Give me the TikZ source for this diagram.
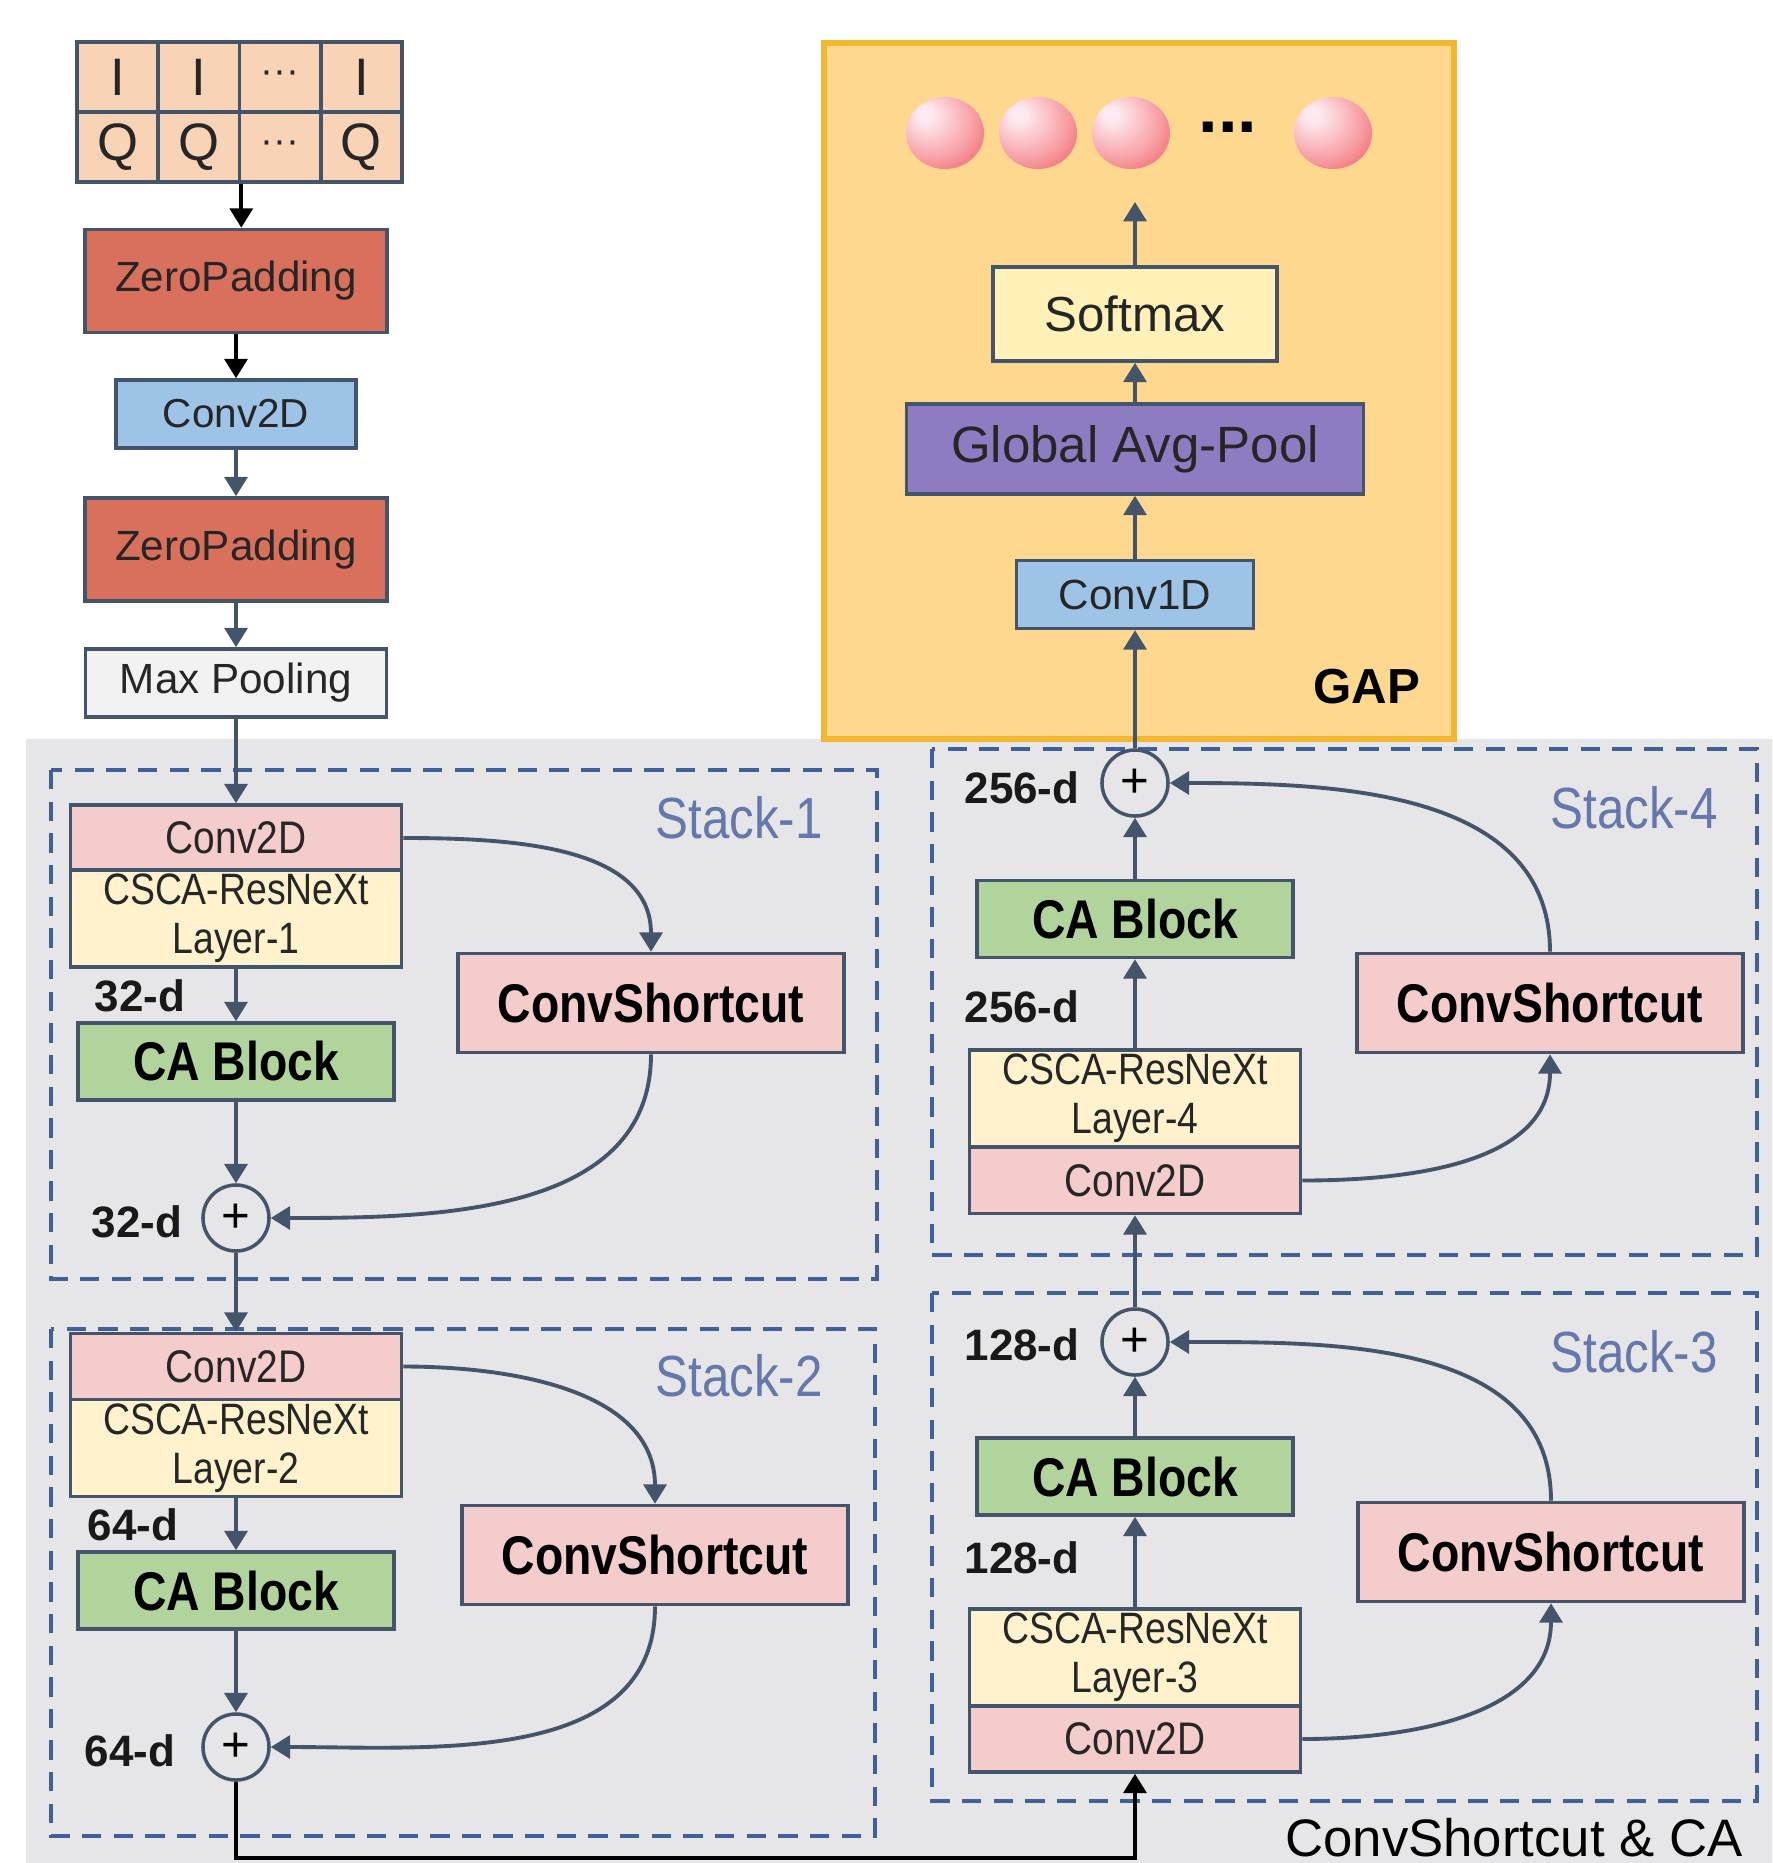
\documentclass[tikz,border=0pt]{standalone}
\usepackage{fontspec}
\setmainfont{Liberation Sans}
\newfontfamily\narrowfont{Liberation Sans}[FakeStretch=0.85]
\usetikzlibrary{arrows.meta,positioning,shapes.geometric}

\definecolor{linegray}{HTML}{44546A}
\definecolor{bggray}{HTML}{E6E6E8}
\definecolor{zpfill}{HTML}{D9705C}
\definecolor{convblue}{HTML}{9DC3E6}
\definecolor{convpink}{HTML}{F4CCCC}
\definecolor{layeryellow}{HTML}{FFF2CC}
\definecolor{cagreen}{HTML}{B1D49C}
\definecolor{poolpurple}{HTML}{8E7CC3}
\definecolor{gapfill}{HTML}{FFD88F}
\definecolor{gapline}{HTML}{F2B630}
\definecolor{softyellow}{HTML}{FFF1B8}
\definecolor{maxgray}{HTML}{F2F2F2}
\definecolor{iqpeach}{HTML}{F9D3B6}
\definecolor{stackblue}{HTML}{40609A}
\definecolor{stacktext}{HTML}{6478AE}
\definecolor{ballhi}{HTML}{FDEAF0}
\definecolor{ballmid}{HTML}{F7A2A7}
\definecolor{balllo}{HTML}{EA3F48}

\pgfdeclareradialshading{redball}{\pgfpoint{-14bp}{14bp}}{color(0bp)=(ballhi); color(5bp)=(ballhi); color(26bp)=(ballmid); color(50bp)=(balllo); color(70bp)=(balllo)}

\begin{document}
\begin{tikzpicture}[
		x=0.01cm, y=-0.01cm,
		blk/.style={draw=linegray, line width=1pt, inner sep=0pt, text=black!85},
		iqcell/.style={blk, fill=iqpeach, minimum width=0.8125cm, minimum height=0.70cm, font=\fontsize{15}{15}\selectfont},
		zpad/.style={blk, fill=zpfill, minimum width=3.02cm, minimum height=1.03cm, font=\fontsize{12}{14}\selectfont},
		conv/.style={blk, fill=convblue, minimum height=0.68cm, font=\fontsize{11.5}{14}\selectfont},
		pool/.style={blk, fill=maxgray, minimum width=3.01cm, minimum height=0.68cm, font=\fontsize{12}{14}\selectfont},
		convtwod/.style={blk, fill=convpink, minimum width=3.31cm, minimum height=0.66cm, font=\narrowfont\fontsize{13}{15}\selectfont},
		layerbox/.style={blk, fill=layeryellow, minimum width=3.31cm, minimum height=0.97cm, align=center, font=\narrowfont\fontsize{12.5}{14}\selectfont},
		cablock/.style={blk, fill=cagreen, minimum width=3.16cm, minimum height=0.77cm, text=black, font=\narrowfont\bfseries\fontsize{15.5}{18}\selectfont},
		shortcut/.style={blk, fill=convpink, minimum width=3.86cm, minimum height=0.99cm, text=black, font=\narrowfont\bfseries\fontsize{15.5}{18}\selectfont},
		addnode/.style={circle, draw=linegray, line width=1pt, minimum size=0.66cm, inner sep=0pt, font=\fontsize{14}{14}\selectfont},
		dimlabel/.style={text=black!90, font=\bfseries\fontsize{12.5}{14}\selectfont},
		stacklabel/.style={text=stacktext, font=\narrowfont\fontsize{16.5}{18}\selectfont},
		stackbox/.style={draw=stackblue, line width=1.3pt, dash pattern=on 5.5pt off 3.5pt},
		flow/.style={draw=linegray, line width=1.1pt, -{Triangle[length=5.5pt,width=6.5pt]}},
		blackflow/.style={flow, draw=black},
		outball/.style={ellipse, minimum width=0.78cm, minimum height=0.72cm, inner sep=0pt, shading=redball}
	]
	\useasboundingbox (0,0) rectangle (1772,1863);
	\fill[bggray] (26,739) rectangle (1772,1863);
	\filldraw[fill=gapfill, draw=gapline, line width=1.5pt] (824,43) rectangle (1454,739);
	\draw[stackbox] (51,770) rectangle (877,1279);
	\draw[stackbox] (51,1329) rectangle (875,1836);
	\draw[stackbox] (932,749) rectangle (1757,1255);
	\draw[stackbox] (932,1293) rectangle (1757,1801);

	% input
	\node[iqcell] (i1) at (117.6,77) {I};
	\node[iqcell] (i2) at (198.9,77) {I};
	\node[iqcell] (i3) at (280.1,77) {\fontsize{11}{11}\selectfont ···};
	\node[iqcell] (i4) at (361.4,77) {I};
	\node[iqcell] (q1) at (117.6,147) {Q};
	\node[iqcell] (q2) at (198.9,147) {Q};
	\node[iqcell] (q3) at (280.1,147) {\fontsize{11}{11}\selectfont ···};
	\node[iqcell] (q4) at (361.4,147) {Q};

	\node[zpad] (zp1) at (236,281) {ZeroPadding};
	\node[conv, minimum width=2.40cm] (cv1) at (236,414) {Conv2D};
	\node[zpad] (zp2) at (236,549.5) {ZeroPadding};
	\node[pool] (mp) at (236,683) {Max Pooling};

	% stack 1
	\node[convtwod] (s1conv) at (236,838) {Conv2D};
	\node[layerbox] (s1layer) at (236,918.5) {CSCA-ResNeXt\\Layer-1};
	\node[cablock] (s1ca) at (236,1061.5) {CA Block};
	\node[addnode] (s1add) at (236,1218) {+};
	\node[shortcut] (s1cut) at (651,1003) {ConvShortcut};
	\node[dimlabel] (d1a) at (140,996) {32-d};
	\node[dimlabel] (d1b) at (137,1222) {32-d};
	\node[stacklabel] (st1) at (739,818) {Stack-1};

	% stack 2
	\node[convtwod] (s2conv) at (236,1366.5) {Conv2D};
	\node[layerbox] (s2layer) at (236,1448) {CSCA-ResNeXt\\Layer-2};
	\node[cablock] (s2ca) at (236,1590.5) {CA Block};
	\node[addnode] (s2add) at (236,1747) {+};
	\node[shortcut] (s2cut) at (655,1555) {ConvShortcut};
	\node[dimlabel] (d2a) at (133,1525) {64-d};
	\node[dimlabel] (d2b) at (130,1751) {64-d};
	\node[stacklabel] (st2) at (739,1376) {Stack-2};

	% stack 3
	\node[convtwod] (s3conv) at (1135,1739) {Conv2D};
	\node[layerbox] (s3layer) at (1135,1657.5) {CSCA-ResNeXt\\Layer-3};
	\node[cablock] (s3ca) at (1135,1476.5) {CA Block};
	\node[addnode] (s3add) at (1135,1342) {+};
	\node[shortcut] (s3cut) at (1551,1552) {ConvShortcut};
	\node[dimlabel] (d3a) at (1022,1558) {128-d};
	\node[dimlabel] (d3b) at (1022,1345) {128-d};
	\node[stacklabel] (st3) at (1634,1352) {Stack-3};

	% stack 4
	\node[convtwod] (s4conv) at (1135,1180.5) {Conv2D};
	\node[layerbox] (s4layer) at (1135,1098.5) {CSCA-ResNeXt\\Layer-4};
	\node[cablock] (s4ca) at (1135,919) {CA Block};
	\node[addnode] (s4add) at (1135,783) {+};
	\node[shortcut] (s4cut) at (1550,1003) {ConvShortcut};
	\node[dimlabel] (d4a) at (1022,1007) {256-d};
	\node[dimlabel] (d4b) at (1022,788) {256-d};
	\node[stacklabel] (st4) at (1634,808) {Stack-4};

	% GAP
	\node[conv, minimum width=2.37cm, font=\fontsize{12}{14}\selectfont] (c1d) at (1135,594.5) {Conv1D};
	\node[blk, fill=poolpurple, minimum width=4.57cm, minimum height=0.90cm, font=\fontsize{14.5}{16}\selectfont] (gpool) at (1135,449) {Global Avg-Pool};
	\node[blk, fill=softyellow, minimum width=2.84cm, minimum height=0.94cm, font=\fontsize{14}{16}\selectfont] (smax) at (1135,314) {Softmax};
	\node[outball] (o1) at (945,133) {};
	\node[outball] (o2) at (1038,133) {};
	\node[outball] (o3) at (1131,133) {};
	\node[outball] (o4) at (1333,133) {};
	\node[font=\bfseries\fontsize{20}{20}\selectfont] (odots) at (1228,127) {...};
	\node[font=\bfseries\fontsize{14}{16}\selectfont] (gaplabel) at (1367,687) {GAP};
	\node[font=\fontsize{15}{17}\selectfont] (cslabel) at (1514,1838) {ConvShortcut \& CA};
	\coordinate (outlet) at (1135,202);
	\coordinate (turn) at (1135,1858);

	\draw[blackflow] (q2.south east) -- (q2.south east |- zp1.north);
	\draw[blackflow] (zp1) -- (cv1);
	\draw[flow] (cv1) -- (zp2);
	\draw[flow] (zp2) -- (mp);
	\draw[flow] (mp) -- (s1conv);
	\draw[flow] (s1layer) -- (s1ca);
	\draw[flow] (s1ca) -- (s1add);
	\draw[flow] (s1conv.east) to[out=0,in=90] (s1cut.north);
	\draw[flow] (s1cut.south) to[out=-90,in=0] (s1add.east);
	\draw[flow] (s1add) -- (s2conv);
	\draw[flow] (s2layer) -- (s2ca);
	\draw[flow] (s2ca) -- (s2add);
	\draw[flow] (s2conv.east) to[out=0,in=90] (s2cut.north);
	\draw[flow] (s2cut.south) to[out=-90,in=0] (s2add.east);
	\draw[blackflow] (s2add.south) |- (turn) -- (s3conv.south);
	\draw[flow] (s3layer) -- (s3ca);
	\draw[flow] (s3ca) -- (s3add);
	\draw[flow] (s3conv.east) to[out=0,in=-90] (s3cut.south);
	\draw[flow] (s3cut.north) to[out=90,in=0] (s3add.east);
	\draw[flow] (s3add) -- (s4conv);
	\draw[flow] (s4layer) -- (s4ca);
	\draw[flow] (s4ca) -- (s4add);
	\draw[flow] (s4conv.east) to[out=0,in=-90] (s4cut.south);
	\draw[flow] (s4cut.north) to[out=90,in=0] (s4add.east);
	\draw[flow] (s4add) -- (c1d);
	\draw[flow] (c1d) -- (gpool);
	\draw[flow] (gpool) -- (smax);
	\draw[flow] (smax) -- (outlet);
\end{tikzpicture}
\end{document}
